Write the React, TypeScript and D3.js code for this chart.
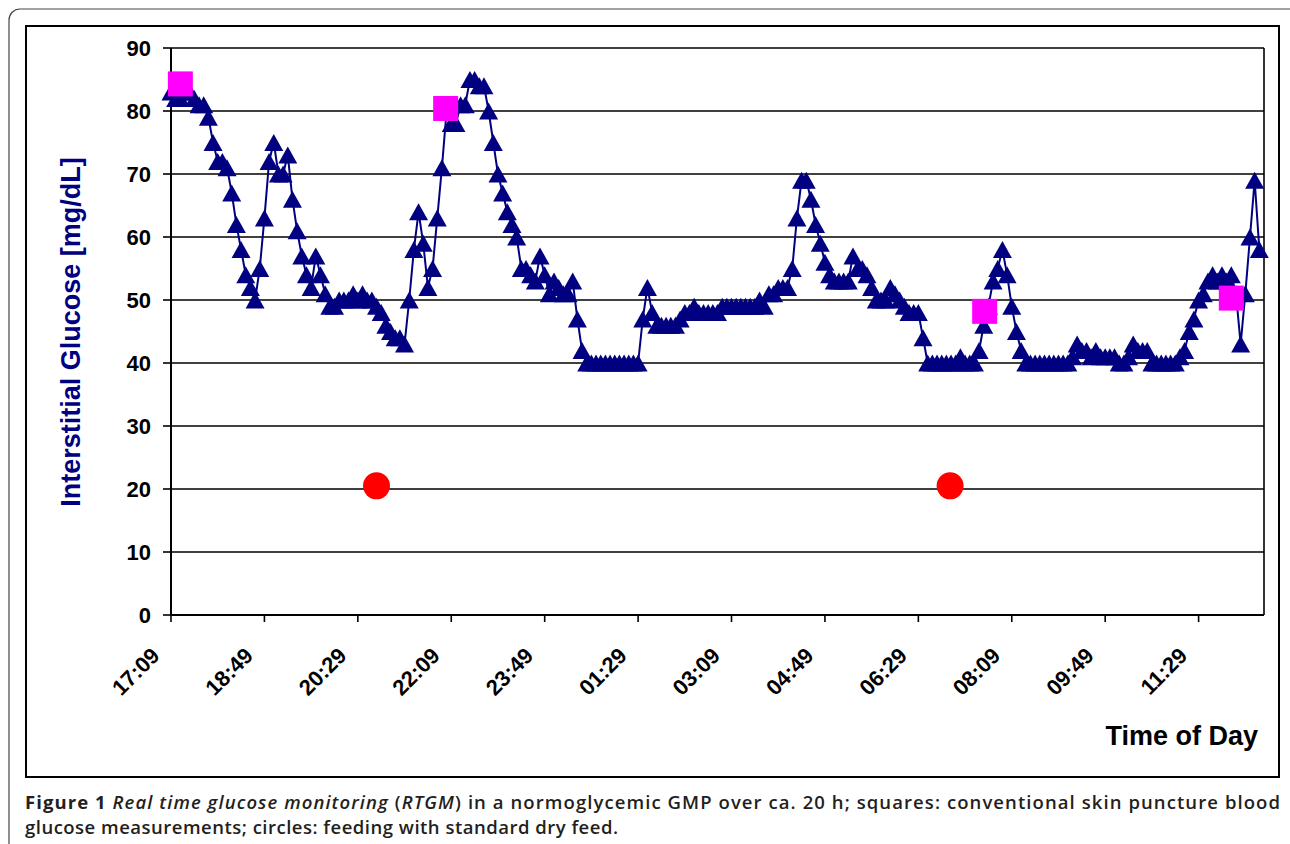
import * as d3 from "d3";

// sensor readings every 5 min starting 17:09 (mg/dL)
const START_TIME = "17:09";
const STEP_MIN = 5;
const glucose = [
  83, 82, 82, 83, 83, 82, 81, 81, 79, 75, 72, 72, 71, 67, 62, 58, 54, 52, 50, 55,
  63, 72, 75, 70, 70, 73, 66, 61, 57, 54, 52, 57, 54, 51, 49, 49, 50, 50, 50, 51,
  50, 51, 50, 50, 49, 48, 46, 45, 44, 44, 43, 50, 58, 64, 59, 52, 55, 63, 71, 80,
  78, 78, 81, 81, 85, 85, 84, 84, 80, 75, 70, 67, 64, 62, 60, 55, 55, 54, 53, 57,
  54, 51, 53, 52, 51, 51, 53, 47, 42, 40, 40, 40, 40, 40, 40, 40, 40, 40, 40, 40,
  40, 47, 52, 48, 46, 46, 46, 46, 46, 47, 48, 48, 49, 48, 48, 48, 48, 48, 49, 49,
  49, 49, 49, 49, 49, 49, 50, 49, 51, 51, 52, 52, 52, 55, 63, 69, 69, 66, 62, 59,
  56, 54, 53, 53, 53, 53, 57, 55, 55, 54, 52, 50, 50, 50, 52, 51, 50, 49, 48, 48,
  48, 44, 40, 40, 40, 40, 40, 40, 40, 41, 40, 40, 40, 42, 46, 49, 53, 55, 58, 54,
  49, 45, 42, 40, 40, 40, 40, 40, 40, 40, 40, 40, 40, 41, 43, 42, 42, 41, 42, 41,
  41, 41, 41, 40, 40, 41, 43, 42, 42, 42, 40, 40, 40, 40, 40, 40, 41, 42, 45, 47,
  50, 51, 53, 54, 53, 54, 53, 54, 51, 43, 51, 60, 69, 58,
];

// skin puncture blood glucose (squares)
const punctureTimes = ["17:19", "22:03", "07:40", "12:04"];
const punctureValues = [84.3, 80.4, 48.2, 50.3];

// feeding (circles)
const feedingTimes = ["20:49", "07:03"];
const feedingValues = [20.5, 20.5];

const tickLabels = [
  "17:09", "18:49", "20:29", "22:09", "23:49", "01:29",
  "03:09", "04:49", "06:29", "08:09", "09:49", "11:29",
];
const yTicks = [0, 10, 20, 30, 40, 50, 60, 70, 80, 90];

const W = 1290;
const H = 844;
const plot = { left: 171, right: 1264, top: 48, bottom: 615 };
const NAVY = "#000080";
const AXIS_FONT = "Arial, 'Liberation Sans', sans-serif";
const CAPTION_FONT = "'Open Sans', 'Noto Sans', sans-serif";

function toMin(t: string) {
  const [h, m] = t.split(":").map(Number);
  const [h0, m0] = START_TIME.split(":").map(Number);
  return (h * 60 + m - (h0 * 60 + m0) + 1440) % 1440;
}

export default function App() {
  const x = d3.scaleLinear().domain([0, 1170]).range([plot.left, plot.right]);
  const y = d3.scaleLinear().domain([0, 90]).range([plot.bottom, plot.top]);

  const pts = glucose.map((v, i) => [x(i * STEP_MIN), y(v)] as [number, number]);
  const line = d3.line()(pts) || "";

  const tw = 19;
  const th = 17;
  const tri = ([cx, cy]: [number, number]) =>
    `M${cx},${cy - th / 2}L${cx + tw / 2},${cy + th / 2}L${cx - tw / 2},${cy + th / 2}Z`;

  const sq = 25;

  return (
    <svg
      width={W}
      height={H}
      style={{ position: "absolute", left: 0, top: 0, background: "#fff" }}
    >
      {/* frames */}
      <rect x={9} y={9} width={1300} height={900} rx={11} fill="none" stroke="#444" strokeWidth={1.2} />
      <rect x={26} y={26} width={1253} height={751} fill="#fff" stroke="#000" strokeWidth={2} />

      {/* gridlines */}
      {yTicks.slice(1).map((t) => (
        <line key={t} x1={plot.left} x2={plot.right} y1={y(t)} y2={y(t)} stroke="#000" strokeWidth={1.6} />
      ))}
      <line x1={plot.right} x2={plot.right} y1={plot.top} y2={plot.bottom} stroke="#000" strokeWidth={1.6} />

      {/* axes */}
      <line x1={plot.left} x2={plot.left} y1={plot.top} y2={plot.bottom} stroke="#000" strokeWidth={2} />
      <line x1={plot.left} x2={plot.right} y1={plot.bottom} y2={plot.bottom} stroke="#000" strokeWidth={2} />
      {yTicks.map((t) => (
        <g key={t}>
          <line x1={plot.left - 8} x2={plot.left} y1={y(t)} y2={y(t)} stroke="#000" strokeWidth={1.6} />
          <text
            x={151}
            y={y(t)}
            dy="0.35em"
            textAnchor="end"
            fontFamily={AXIS_FONT}
            fontWeight="bold"
            fontSize={22}
          >
            {t}
          </text>
        </g>
      ))}
      {tickLabels.map((lab, i) => {
        const tx = x(i * 100);
        return (
          <g key={lab}>
            <line x1={tx} x2={tx} y1={plot.bottom} y2={plot.bottom + 7} stroke="#000" strokeWidth={1.6} />
            <text
              x={tx - 10}
              y={657}
              textAnchor="end"
              transform={`rotate(-45 ${tx - 10} 657)`}
              fontFamily={AXIS_FONT}
              fontWeight="bold"
              fontSize={22}
            >
              {lab}
            </text>
          </g>
        );
      })}

      {/* axis titles */}
      <text
        x={80}
        y={332}
        textAnchor="middle"
        transform="rotate(-90 80 332)"
        fontFamily={AXIS_FONT}
        fontWeight="bold"
        fontSize={27}
        fill={NAVY}
      >
        Interstitial Glucose [mg/dL]
      </text>
      <text x={1258} y={745} textAnchor="end" fontFamily={AXIS_FONT} fontWeight="bold" fontSize={27}>
        Time of Day
      </text>

      {/* RTGM series */}
      <path d={line} fill="none" stroke={NAVY} strokeWidth={2} />
      {pts.map((p, i) => (
        <path key={i} d={tri(p)} fill={NAVY} />
      ))}

      {/* blood glucose squares */}
      {punctureTimes.map((t, i) => (
        <rect
          key={t}
          x={x(toMin(t)) - sq / 2}
          y={y(punctureValues[i]) - sq / 2}
          width={sq}
          height={sq}
          fill="#ff00ff"
        />
      ))}

      {/* feeding circles */}
      {feedingTimes.map((t, i) => (
        <circle key={t} cx={x(toMin(t))} cy={y(feedingValues[i])} r={13.5} fill="#ff0000" />
      ))}

      {/* caption */}
      <text
        x={25}
        y={809}
        fontFamily={CAPTION_FONT}
        fontSize={18.5}
        fontWeight={600}
        fill="#231f20"
        textLength={1255}
        lengthAdjust="spacing"
      >
        <tspan fontWeight={700}>Figure 1</tspan>
        <tspan fontStyle="italic"> Real time glucose monitoring</tspan>
        <tspan> (</tspan>
        <tspan fontStyle="italic">RTGM</tspan>
        <tspan>) in a normoglycemic GMP over ca. 20 h; squares: conventional skin puncture blood</tspan>
      </text>
      <text
        x={25}
        y={834}
        fontFamily={CAPTION_FONT}
        fontSize={18.5}
        fontWeight={600}
        fill="#231f20"
        textLength={593}
        lengthAdjust="spacing"
      >
        glucose measurements; circles: feeding with standard dry feed.
      </text>
    </svg>
  );
}
